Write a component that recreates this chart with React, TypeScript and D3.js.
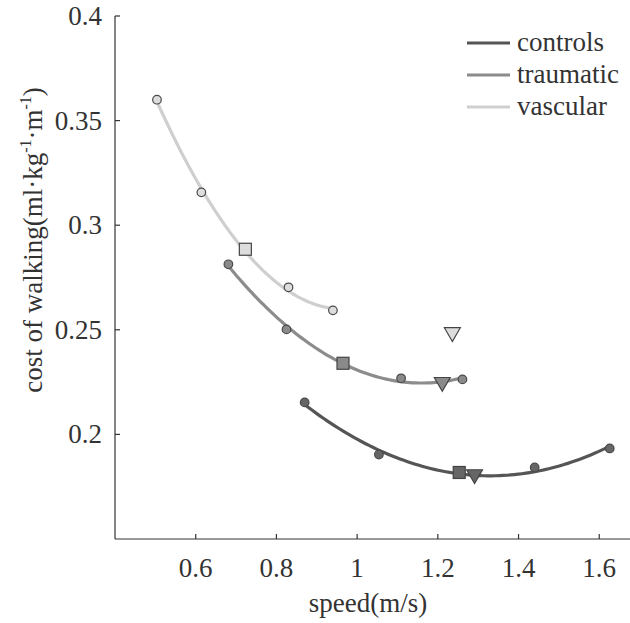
import React from "react";
import * as d3 from "d3";

const speedControls = [0.870, 1.054, 1.440, 1.626];
const costControls = [0.2153, 0.1904, 0.1842, 0.1933];
const speedTraumatic = [0.681, 0.825, 1.109, 1.261];
const costTraumatic = [0.2813, 0.2502, 0.2268, 0.2263];
const speedVascular = [0.504, 0.614, 0.830, 0.940];
const costVascular = [0.360, 0.3157, 0.2703, 0.2593];

// preferred speed (square) and other speed (triangle)
const squareSpeed = [1.253, 0.965, 0.723];
const squareCost = [0.1818, 0.2340, 0.2885];
const triangleSpeed = [1.291, 1.211, 1.236];
const triangleCost = [0.1809, 0.225, 0.2488];

const groups = ["controls", "traumatic", "vascular"];
const lineColors = ["#555555", "#8c8c8c", "#cfcfcf"];
const fillColors = ["#666666", "#8a8a8a", "#dddddd"];

const xTicks = [0.6, 0.8, 1, 1.2, 1.4, 1.6];
const yTicks = [0.2, 0.25, 0.3, 0.35, 0.4];

function quadFit(xs: number[], ys: number[]) {
  let s0 = 0, s1 = 0, s2 = 0, s3 = 0, s4 = 0, t0 = 0, t1 = 0, t2 = 0;
  xs.forEach((x, i) => {
    const y = ys[i];
    s0 += 1; s1 += x; s2 += x * x; s3 += x * x * x; s4 += x * x * x * x;
    t0 += y; t1 += x * y; t2 += x * x * y;
  });
  const M = [[s0, s1, s2, t0], [s1, s2, s3, t1], [s2, s3, s4, t2]];
  for (let i = 0; i < 3; i++) {
    for (let j = i + 1; j < 3; j++) {
      const f = M[j][i] / M[i][i];
      for (let k = i; k < 4; k++) M[j][k] -= f * M[i][k];
    }
  }
  const c = M[2][3] / M[2][2];
  const b = (M[1][3] - M[1][2] * c) / M[1][1];
  const a = (M[0][3] - M[0][1] * b - M[0][2] * c) / M[0][0];
  return (x: number) => a + b * x + c * x * x;
}

export default function App() {
  const W = 630, H = 623;
  const x = d3.scaleLinear().domain([0.4, 1.7]).range([115, 117 + 1.3 * 402]);
  const y = d3.scaleLinear().domain([0.15, 0.4]).range([539, 16]);
  const font = "Liberation Serif";
  const fs = 27;

  const series = [
    [speedControls, costControls],
    [speedTraumatic, costTraumatic],
    [speedVascular, costVascular],
  ];

  const line = d3.line<[number, number]>().x(d => x(d[0])).y(d => y(d[1])).curve(d3.curveLinear);

  const curves = series.map(([sx, sy]) => {
    const f = quadFit(sx, sy);
    const lo = d3.min(sx)!, hi = d3.max(sx)!;
    const pts: [number, number][] = d3.range(0, 81).map(i => {
      const v = lo + (hi - lo) * i / 80;
      return [v, f(v)];
    });
    return line(pts)!;
  });

  const tri = d3.symbol().type(d3.symbolTriangle).size(110)();
  const x0 = x.range()[0];
  const y0 = y.range()[0];
  const ts = { fontFamily: font, fontSize: fs, fill: "#333" } as const;

  return (
    <svg width={W} height={H} style={{ position: "absolute", left: 0, top: 0, background: "#fff", fontFamily: font }}>
      <rect width={W} height={H} fill="#fff" />
      <line x1={x0} x2={W} y1={y0} y2={y0} stroke="#333" strokeWidth={1.2} />
      <line x1={x0} x2={x0} y1={y(0.4)} y2={y0} stroke="#333" strokeWidth={1.2} />
      {xTicks.map(t => (
        <g key={"x" + t}>
          <line x1={x(t)} x2={x(t)} y1={y0} y2={y0 - 5} stroke="#333" strokeWidth={1.2} />
          <text x={x(t)} y={y0 + 38} textAnchor="middle" style={ts}>{d3.format("~g")(t)}</text>
        </g>
      ))}
      {yTicks.map(t => (
        <g key={"y" + t}>
          <line x1={x0} x2={x0 + 5} y1={y(t)} y2={y(t)} stroke="#333" strokeWidth={1.2} />
          <text x={x0 - 13} y={y(t) + 9} textAnchor="end" style={ts}>{d3.format("~g")(t)}</text>
        </g>
      ))}
      <text x={368} y={612} textAnchor="middle" style={ts}>speed(m/s)</text>
      <text transform={`translate(42,240) rotate(-90)`} textAnchor="middle" style={ts}>
        cost of walking(ml·kg<tspan dy={-11} style={{ fontSize: 16 }}>-1</tspan><tspan dy={11}>·m</tspan><tspan dy={-11} style={{ fontSize: 16 }}>-1</tspan><tspan dy={11}>)</tspan>
      </text>

      {curves.map((d, i) => (
        <path key={"c" + i} d={d} fill="none" stroke={lineColors[i]} strokeWidth={3.2} />
      ))}
      {series.map(([sx, sy], i) => sx.map((v, j) => (
        <circle key={`p${i}-${j}`} cx={x(v)} cy={y(sy[j])} r={4.3} fill={fillColors[i]} stroke="#4a4a4a" strokeWidth={1.2} />
      )))}
      {squareSpeed.map((v, i) => (
        <rect key={"s" + i} x={x(v) - 6} y={y(squareCost[i]) - 6} width={12} height={12} fill={fillColors[i]} stroke="#444" strokeWidth={1.2} />
      ))}
      {triangleSpeed.map((v, i) => (
        <path key={"t" + i} d={tri!} transform={`translate(${x(v)},${y(triangleCost[i])}) rotate(180)`} fill={fillColors[i]} stroke="#444" strokeWidth={1.2} />
      ))}

      {groups.map((g, i) => (
        <g key={"l" + g} transform={`translate(467,${43 + i * 32})`}>
          <line x1={0} x2={43} y1={0} y2={0} stroke={lineColors[i]} strokeWidth={3.2} />
          <text x={50} y={8} style={ts}>{g}</text>
        </g>
      ))}
    </svg>
  );
}
